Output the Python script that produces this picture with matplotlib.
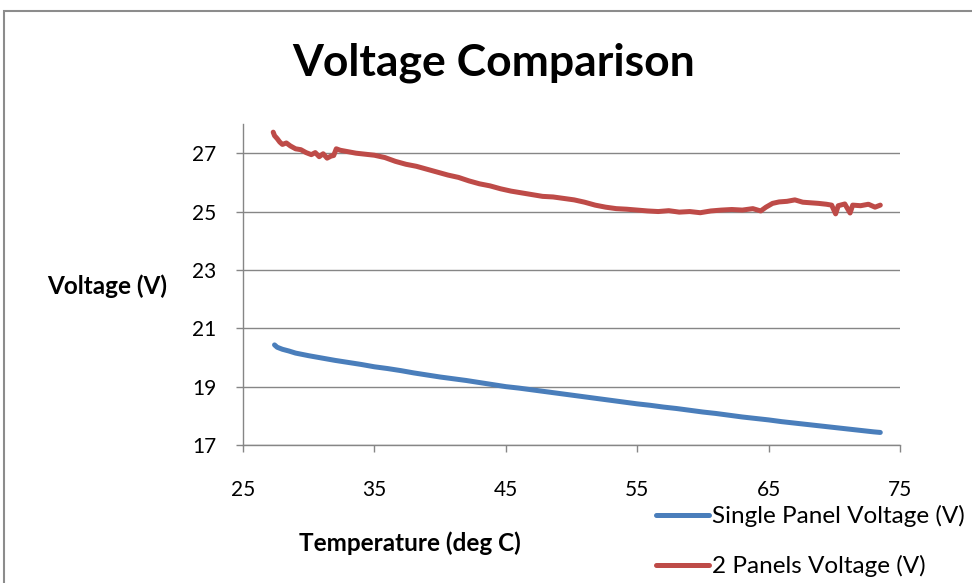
import matplotlib.pyplot as plt
from matplotlib.patches import Rectangle

plt.rcParams['font.family'] = ['Lato', 'DejaVu Sans']

# Single panel (blue)
temp_single = [27.4, 27.6, 28.0, 28.5, 29.0, 30.0, 31.0, 32.0, 33.0, 34.0, 35.0, 36.0, 37.0,
               38.0, 39.0, 40.0, 41.0, 42.0, 43.0, 44.0, 45.0, 46.0, 47.0, 48.0, 49.0, 50.0,
               51.0, 52.0, 53.0, 54.0, 55.0, 56.0, 57.0, 58.0, 59.0, 60.0, 61.0, 62.0, 63.0,
               64.0, 65.0, 66.0, 67.0, 68.0, 69.0, 70.0, 71.0, 72.0, 73.0, 73.5]
volt_single = [20.43, 20.35, 20.28, 20.22, 20.15, 20.06, 19.98, 19.90, 19.83, 19.76, 19.68,
               19.62, 19.55, 19.47, 19.40, 19.33, 19.27, 19.21, 19.14, 19.07, 19.00, 18.95,
               18.89, 18.83, 18.77, 18.71, 18.65, 18.59, 18.53, 18.47, 18.41, 18.36, 18.30,
               18.25, 18.19, 18.13, 18.08, 18.02, 17.96, 17.91, 17.86, 17.80, 17.75, 17.70,
               17.65, 17.60, 17.55, 17.50, 17.45, 17.43]

# Two panels (red)
temp_two = [27.3, 27.4, 27.6, 27.8, 28.0, 28.3, 28.6, 29.0, 29.4, 29.8, 30.2, 30.5, 30.8,
            31.1, 31.4, 31.7, 31.9, 32.1, 32.4, 33.0, 33.6, 34.2, 35.0, 35.8, 36.6, 37.4,
            38.2, 39.0, 39.8, 40.6, 41.4, 42.2, 43.0, 43.8, 44.6, 45.4, 46.2, 47.0, 47.8,
            48.6, 49.4, 50.2, 51.0, 51.8, 52.6, 53.4, 54.2, 55.0, 55.8, 56.6, 57.4, 58.2,
            59.0, 59.8, 60.6, 61.4, 62.2, 63.0, 63.8, 64.4, 64.8, 65.3, 65.8, 66.4, 67.0,
            67.6, 68.2, 68.8, 69.4, 69.8, 70.1, 70.3, 70.8, 71.2, 71.4, 72.0, 72.6, 73.1, 73.5]
volt_two = [27.72, 27.60, 27.50, 27.38, 27.30, 27.35, 27.25, 27.15, 27.12, 27.02, 26.95,
            27.02, 26.88, 26.98, 26.83, 26.90, 26.92, 27.15, 27.10, 27.05, 27.00, 26.97,
            26.93, 26.85, 26.72, 26.62, 26.55, 26.45, 26.35, 26.25, 26.17, 26.05, 25.95,
            25.88, 25.78, 25.70, 25.64, 25.58, 25.52, 25.50, 25.45, 25.40, 25.32, 25.22,
            25.15, 25.10, 25.08, 25.05, 25.02, 25.00, 25.03, 24.98, 25.00, 24.96, 25.02,
            25.05, 25.07, 25.05, 25.10, 25.02, 25.15, 25.28, 25.33, 25.35, 25.40, 25.32,
            25.30, 25.28, 25.25, 25.22, 24.92, 25.20, 25.26, 24.95, 25.22, 25.20, 25.25,
            25.15, 25.22]

x_ticks = [25, 35, 45, 55, 65, 75]
y_ticks = [17, 19, 21, 23, 25, 27]

grey = '#868686'

fig = plt.figure(figsize=(9.72, 5.83), dpi=100)
fig.patches.append(Rectangle((4 / 972, -0.1), 1.2, 1 - 11 / 583 + 0.1,
                             transform=fig.transFigure, fill=False,
                             edgecolor='#8c8c8c', linewidth=1.5))

ax = fig.add_axes([243 / 972, 1 - 445 / 583, (900 - 243) / 972, (445 - 124) / 583])
ax.plot(temp_single, volt_single, color='#4a7ebb', linewidth=3.6,
        label='Single Panel Voltage (V)', solid_capstyle='round')
ax.plot(temp_two, volt_two, color='#be4b48', linewidth=3.6,
        label='2 Panels Voltage (V)', solid_capstyle='round')

ax.set_xlim(25, 75)
ax.set_ylim(17, 28)
ax.set_xticks(x_ticks)
ax.set_yticks(y_ticks)
ax.grid(axis='y', color=grey, linewidth=1)
ax.set_axisbelow(True)
for s in ['top', 'right']:
    ax.spines[s].set_visible(False)
for s in ['left', 'bottom']:
    ax.spines[s].set_color(grey)
    ax.spines[s].set_linewidth(1)
ax.tick_params(axis='both', colors=grey, length=5, width=1, labelsize=15,
               labelcolor='black')
ax.tick_params(axis='y', pad=14)
ax.tick_params(axis='x', pad=20)

fig.text(494 / 972, 1 - 63 / 583, 'Voltage Comparison', ha='center', va='center',
         fontsize=32, fontweight='bold')
fig.text(107 / 972, 1 - 286 / 583, 'Voltage (V)', ha='center', va='center',
         fontsize=17.5, fontweight='bold')
fig.text(410 / 972, 1 - 543 / 583, 'Temperature (deg C)', ha='center', va='center',
         fontsize=17.5, fontweight='bold')

fig.legend(loc='upper left', bbox_to_anchor=(656 / 972, 1 - 505 / 583),
           frameon=False, fontsize=17.5, handlelength=2.2, handletextpad=0.1,
           labelspacing=1.15, borderaxespad=0, borderpad=0)

fig.savefig('out.png', dpi=100)
